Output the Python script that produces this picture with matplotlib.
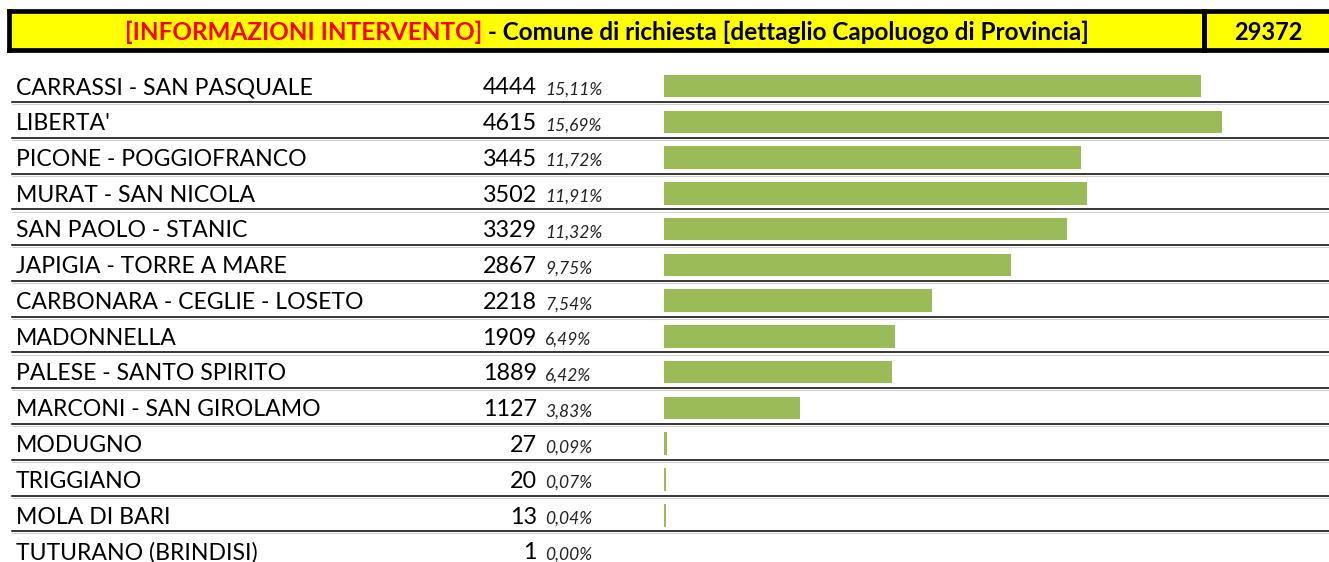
import matplotlib
matplotlib.use("Agg")
import matplotlib.pyplot as plt

# data
quartieri = ["CARRASSI - SAN PASQUALE", "LIBERTA'", "PICONE - POGGIOFRANCO",
             "MURAT - SAN NICOLA", "SAN PAOLO - STANIC", "JAPIGIA - TORRE A MARE",
             "CARBONARA - CEGLIE - LOSETO", "MADONNELLA", "PALESE - SANTO SPIRITO",
             "MARCONI - SAN GIROLAMO", "MODUGNO", "TRIGGIANO", "MOLA DI BARI",
             "TUTURANO (BRINDISI)"]
interventi = [4444, 4615, 3445, 3502, 3329, 2867, 2218, 1909, 1889, 1127, 27, 20, 13, 1]
percentuali = ["15,11%", "15,69%", "11,72%", "11,91%", "11,32%", "9,75%", "7,54%",
               "6,49%", "6,42%", "3,83%", "0,09%", "0,07%", "0,04%", "0,00%"]
totale = "29372"

W, H = 1329, 562
ROW0, PITCH = 86.0, 35.77
FONT = ["Lato", "DejaVu Sans"]
GREEN = "#9BBB59"

fig = plt.figure(figsize=(W / 100, H / 100), dpi=100)
ax = fig.add_axes([0, 0, 1, 1])
ax.set_xlim(0, W)
ax.set_ylim((H - ROW0) / PITCH, -ROW0 / PITCH)
ax.axis("off")

def py(p):
    # pixel row -> row units
    return (p - ROW0) / PITCH

# header: fondo giallo, bordo nero aperto a destra
top, bot = py(11), py(50)
ax.fill_between([9, W], top, bot, color="#FFFF00", lw=0)
ax.plot([9, W], [top, top], color="black", lw=3.4, solid_capstyle="projecting")
ax.plot([9, W], [bot, bot], color="black", lw=3.4, solid_capstyle="projecting")
ax.plot([9, 9], [top, bot], color="black", lw=3.4)
ax.plot([1203.5, 1203.5], [top, bot], color="black", lw=3.6)
yh = (top + bot) / 2 + 0.05
parte1 = "[INFORMAZIONI INTERVENTO]"
parte2 = " - Comune di richiesta [dettaglio Capoluogo di Provincia]"
t1 = ax.text(125, yh, parte1, color="#FF0000", fontsize=17.5,
             fontweight="bold", family=FONT, ha="left", va="center")
ax.annotate(parte2, xy=(1, 0.5), xycoords=t1, color="black", fontsize=17.5,
            fontweight="bold", family=FONT, ha="left", va="center")
ax.text(1268, yh, totale, fontsize=17, fontweight="bold", family=FONT,
        ha="center", va="center")

# righe
for i, (nome, v, p) in enumerate(zip(quartieri, interventi, percentuali)):
    ax.text(16, i + 0.05, nome, fontsize=16.6, family=FONT, va="center", ha="left")
    ax.text(537, i + 0.05, str(v), fontsize=16.8, family=FONT, va="center", ha="right")
    ax.text(545, i + 0.1, p, fontsize=12.5, family=FONT, style="italic",
            va="center", ha="left", color="#222222")
    if i < len(quartieri) - 1:
        ax.plot([12, W], [i + 0.45, i + 0.45], color="black", lw=1.1)
        ax.plot([12, W], [i + 0.51, i + 0.51], color="#D0D0D0", lw=0.8)

# barre
bx = fig.add_axes([664 / W, 0, (1222 - 664) / W, 1], sharey=ax)
bx.set_xlim(0, max(interventi))
bx.barh(range(len(interventi)), interventi, height=0.63, color=GREEN)
bx.axis("off")
bx.patch.set_alpha(0)

fig.savefig("out.png", dpi=100)
